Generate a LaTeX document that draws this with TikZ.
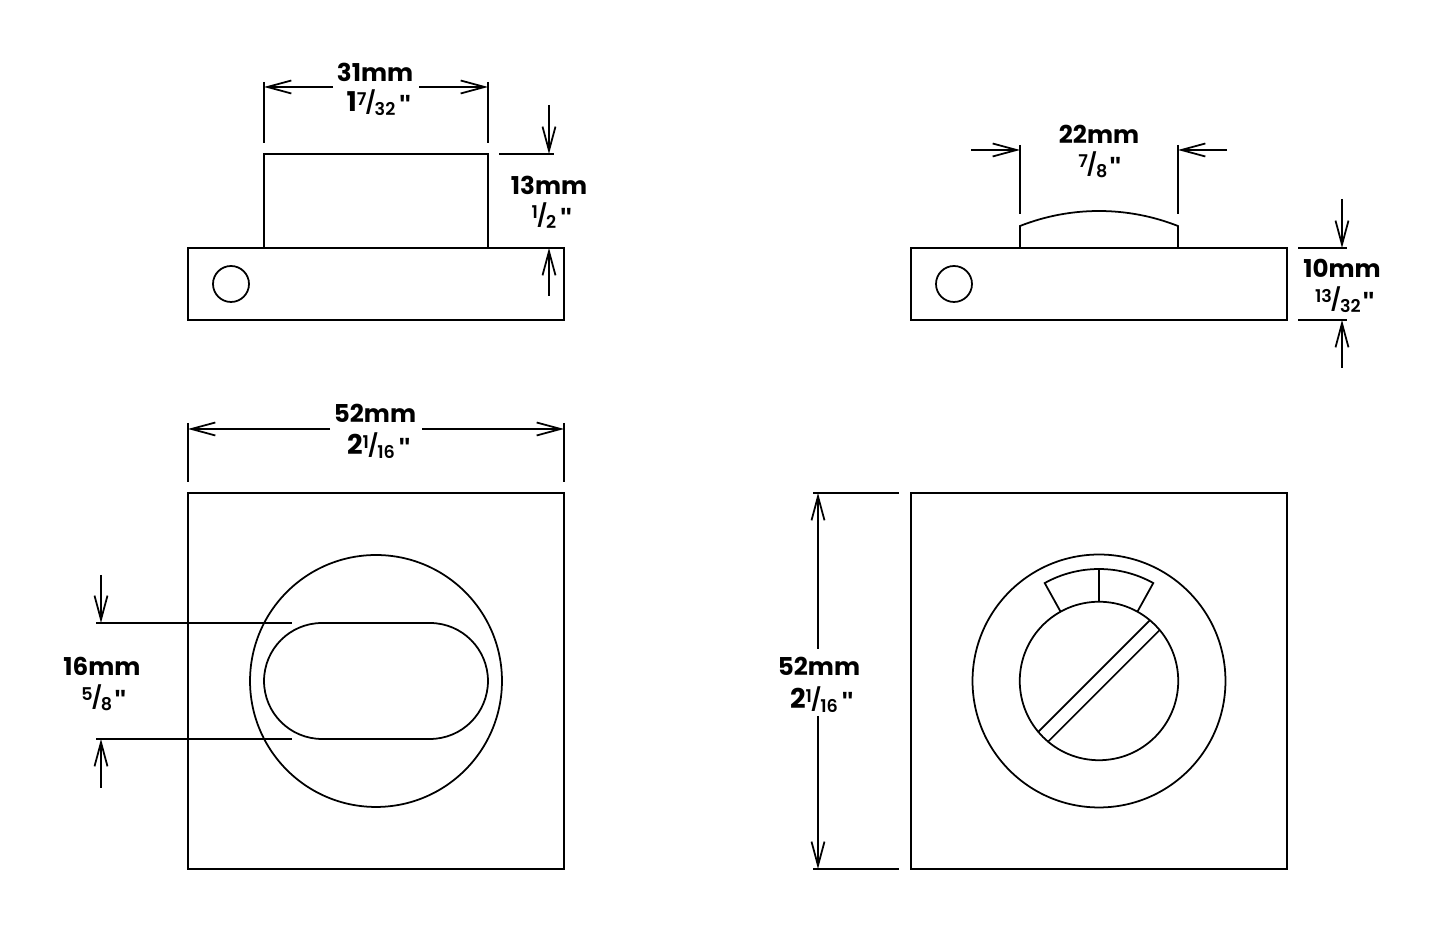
\documentclass[tikz,border=0pt]{standalone}
\usepackage{fontspec}
\setmainfont{Poppins}
\newfontfamily\fracfont{Poppins SemiBold}
\newfontfamily\tickfont{Liberation Sans}
\usetikzlibrary{arrows.meta}
\newcommand{\frc}[2]{{\fracfont\mdseries\fontsize{10}{11}\selectfont\raisebox{3.6pt}{#1}\kern-.7pt\raisebox{.4pt}{\fontsize{12.5}{13}\selectfont/}\kern-.7pt\raisebox{-2.4pt}{#2}}}
\newcommand{\tick}{{\tickfont\fontsize{15}{15}\bfseries\selectfont\raisebox{-1pt}{"}}}
\tikzset{
	part/.style={draw, line width=1pt, inner sep=0pt, outer sep=0pt},
	plate/.style={part, minimum width=7.52cm, minimum height=1.44cm},
	face/.style={part, minimum size=7.52cm},
	screw/.style={part, circle, minimum size=.72cm},
	guide/.style={line width=1pt},
	dimarrow/.style={line width=1pt, -{Straight Barb[length=.48cm, width=.26cm, line width=1pt]}},
	mm/.style={font=\fontsize{14}{15}\selectfont\bfseries, inner sep=0pt},
	inch/.style={font=\fontsize{15.5}{16}\selectfont\bfseries, inner sep=0pt}
}
\begin{document}
\begin{tikzpicture}[x=.02cm, y=.02cm]
	\useasboundingbox (0,0) rectangle (1445,935);
	% side view, slot turn
	\node[plate] (plateA) at (376,651) {};
	\node[part, minimum width=4.48cm, minimum height=1.88cm, anchor=south] (pinA) at (plateA.north) {};
	\node[screw] (screwA) at (231,651) {};
	% side view, dome turn
	\node[plate] (plateB) at (1099,651) {};
	\node[screw] (screwB) at (954,651) {};
	\coordinate (domeL) at (1020,687);
	\coordinate (domeR) at (1178,687);
	\draw[part] (domeL) -- (1020,709) arc[start angle=111.5, end angle=68.5, radius=4.31cm] -- (domeR);
	% front view, slot
	\node[face] (faceA) at (376,254) {};
	\node[part, circle, minimum size=5.04cm] (ringA) at (376,254) {};
	\node[part, rounded corners=1.16cm, minimum width=4.48cm, minimum height=2.32cm] (slotA) at (376,254) {};
	% front view, turn
	\node[face] (faceB) at (1099,254) {};
	\node[part, circle, minimum size=5.06cm] (ringB) at (1099,254) {};
	\node[part, circle, minimum size=3.17cm] (dialB) at (1099,254) {};
	\draw[part] (dialB.50) -- (dialB.220);
	\draw[part] (dialB.40) -- (dialB.230);
	\coordinate (markL) at ([shift={(119:2.24cm)}]dialB.center);
	\coordinate (markR) at ([shift={(61:2.24cm)}]dialB.center);
	\draw[part] (dialB.119) -- (markL) arc[start angle=119, end angle=61, radius=2.24cm] -- (dialB.61);
	\draw[part] (dialB.north) -- ([yshift=2.24cm]dialB.center);

	% 31mm
	\coordinate (a1) at (264,853);
	\coordinate (a2) at (264,792);
	\coordinate (a3) at (488,853);
	\coordinate (a4) at (488,792);
	\coordinate (a5) at (333,848);
	\coordinate (a6) at (264,848);
	\coordinate (a7) at (419,848);
	\coordinate (a8) at (488,848);
	\draw[guide] (a1) -- (a2);
	\draw[guide] (a3) -- (a4);
	\draw[dimarrow] (a5) -- (a6);
	\draw[dimarrow] (a7) -- (a8);
	\node[mm] (labA) at (375,863) {31mm};
	\node[inch] (inA) at (379,832) {1\frc{7}{32}\kern2pt\tick};

	% 13mm
	\coordinate (b1) at (499,781);
	\coordinate (b2) at (554,781);
	\coordinate (b3) at (549,830);
	\coordinate (b4) at (549,781);
	\coordinate (b5) at (549,639);
	\coordinate (b6) at (549,687);
	\draw[guide] (b1) -- (b2);
	\draw[dimarrow] (b3) -- (b4);
	\draw[dimarrow] (b5) -- (b6);
	\node[mm] (labB) at (549,750) {13mm};
	\node[inch] (inB) at (552,719) {\frc{1}{2}\kern2pt\tick};

	% 22mm
	\coordinate (c1) at (1020,790);
	\coordinate (c2) at (1020,721);
	\coordinate (c3) at (1178,790);
	\coordinate (c4) at (1178,721);
	\coordinate (c5) at (971,785);
	\coordinate (c6) at (1020,785);
	\coordinate (c7) at (1227,785);
	\coordinate (c8) at (1178,785);
	\draw[guide] (c1) -- (c2);
	\draw[guide] (c3) -- (c4);
	\draw[dimarrow] (c5) -- (c6);
	\draw[dimarrow] (c7) -- (c8);
	\node[mm] (labC) at (1099,801) {22mm};
	\node[inch] (inC) at (1100,770) {\frc{7}{8}\kern1pt\tick};

	% 10mm
	\coordinate (d1) at (1298,687);
	\coordinate (d2) at (1347,687);
	\coordinate (d3) at (1298,615);
	\coordinate (d4) at (1347,615);
	\coordinate (d5) at (1342,736);
	\coordinate (d6) at (1342,687);
	\coordinate (d7) at (1342,567);
	\coordinate (d8) at (1342,615);
	\draw[guide] (d1) -- (d2);
	\draw[guide] (d3) -- (d4);
	\draw[dimarrow] (d5) -- (d6);
	\draw[dimarrow] (d7) -- (d8);
	\node[mm] (labD) at (1342,667) {10mm};
	\node[inch] (inD) at (1345,635) {\frc{13}{32}\kern1pt\tick};

	% 52mm across
	\coordinate (e1) at (188,512);
	\coordinate (e2) at (188,453);
	\coordinate (e3) at (564,512);
	\coordinate (e4) at (564,453);
	\coordinate (e5) at (330,506);
	\coordinate (e6) at (188,506);
	\coordinate (e7) at (422,506);
	\coordinate (e8) at (564,506);
	\draw[guide] (e1) -- (e2);
	\draw[guide] (e3) -- (e4);
	\draw[dimarrow] (e5) -- (e6);
	\draw[dimarrow] (e7) -- (e8);
	\node[mm] (labE) at (375,522) {52mm};
	\node[inch] (inE) at (379,489) {2\frc{1}{16}\kern2pt\tick};

	% 16mm
	\coordinate (f1) at (96,312);
	\coordinate (f2) at (292,312);
	\coordinate (f3) at (96,196);
	\coordinate (f4) at (292,196);
	\coordinate (f5) at (101,360);
	\coordinate (f6) at (101,312);
	\coordinate (f7) at (101,147);
	\coordinate (f8) at (101,196);
	\draw[guide] (f1) -- (f2);
	\draw[guide] (f3) -- (f4);
	\draw[dimarrow] (f5) -- (f6);
	\draw[dimarrow] (f7) -- (f8);
	\node[mm] (labF) at (102,269) {16mm};
	\node[inch] (inF) at (104,237) {\frc{5}{8}\kern1pt\tick};

	% 52mm down
	\coordinate (g1) at (813,442);
	\coordinate (g2) at (899,442);
	\coordinate (g3) at (813,66);
	\coordinate (g4) at (899,66);
	\coordinate (g5) at (818,286);
	\coordinate (g6) at (818,442);
	\coordinate (g7) at (818,219);
	\coordinate (g8) at (818,66);
	\draw[guide] (g1) -- (g2);
	\draw[guide] (g3) -- (g4);
	\draw[dimarrow] (g5) -- (g6);
	\draw[dimarrow] (g7) -- (g8);
	\node[mm] (labG) at (819,269) {52mm};
	\node[inch] (inG) at (822,235) {2\frc{1}{16}\kern2pt\tick};
\end{tikzpicture}
\end{document}
